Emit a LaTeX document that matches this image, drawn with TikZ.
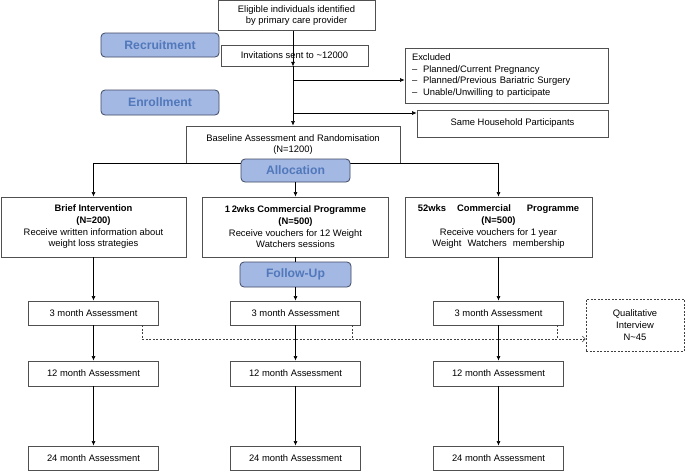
\documentclass[tikz,border=0pt]{standalone}
\usepackage{fontspec}
\setmainfont{Liberation Sans}
\usetikzlibrary{arrows.meta}
\definecolor{stagefill}{RGB}{164,184,228}
\definecolor{stagetext}{RGB}{80,120,186}
\definecolor{stageline}{RGB}{62,72,98}
\definecolor{boxline}{RGB}{80,80,80}
\begin{document}
\begin{tikzpicture}[x=1pt,y=-1pt,
		box/.style={draw=boxline,line width=0.8pt,fill=white,inner sep=0pt,align=center,font=\fontsize{9.4}{11.7}\selectfont},
		stage/.style={draw=stageline,line width=0.8pt,fill=stagefill,rounded corners=4pt,inner sep=0pt,text=stagetext,font=\fontsize{12.2}{14}\selectfont\bfseries},
		arr/.style={-{Latex[length=4.5pt,width=4pt]},line width=0.6pt},
		dotline/.style={draw=black!75,dash pattern=on 2pt off 1.5pt,line width=0.6pt}]
		\useasboundingbox (0,0) rectangle (685,471);
	
		\node[box,minimum width=157pt,minimum height=30pt] (elig) at (296.5,15.5) {Eligible individuals identified\\by primary care provider};
		\node[stage,minimum width=118pt,minimum height=24pt] (recruit) at (160,45) {Recruitment};
		\node[box,minimum width=147pt,minimum height=21pt] (invite) at (294.5,55.5) {Invitations sent to \textasciitilde12000};
		\node[box,minimum width=203pt,minimum height=55pt,text width=189pt,align=left] (excl) at (506.5,75.5) {Excluded\\\makebox[11pt][l]{--}Planned/Current Pregnancy\\\makebox[11pt][l]{--}Planned/Previous Bariatric Surgery\\\makebox[11pt][l]{--}Unable/Unwilling to participate};
		\node[stage,minimum width=118pt,minimum height=25pt] (enrol) at (160,102.5) {Enrollment};
		\node[box,minimum width=191pt,minimum height=27pt] (house) at (512.5,123.5) {Same Household Participants};
		\node[box,minimum width=214pt,minimum height=37pt] (base) at (293,144.5) {Baseline Assessment and Randomisation\\(N=1200)};
	
		\node[box,minimum width=185pt,minimum height=60pt] (brief) at (93.5,227) {\textbf{Brief Intervention}\\\textbf{(N=200)}\\Receive written information about\\weight loss strategies};
		\node[box,minimum width=186pt,minimum height=60pt] (twelve) at (295.5,227) {\textbf{1\,2wks Commercial Programme}\\\textbf{(N=500)}\\Receive vouchers for 12 Weight\\Watchers sessions};
		\node[box,minimum width=187pt,minimum height=60pt] (fifty) at (498.5,227) {\textbf{52wks\hspace{11pt}Commercial\hspace{16pt}Programme}\\\textbf{(N=500)}\\Receive vouchers for 1 year\\Weight\hspace{6pt}Watchers\hspace{6pt}membership};
		\node[stage,minimum width=111pt,minimum height=25pt] (follow) at (295.5,274.5) {Follow-Up};
	
		\node[box,minimum width=130pt,minimum height=24pt] (threeA) at (93.5,313) {3 month Assessment};
		\node[box,minimum width=130pt,minimum height=24pt] (threeB) at (295.5,313) {3 month Assessment};
		\node[box,minimum width=130pt,minimum height=24pt] (threeC) at (498.5,313) {3 month Assessment};
		\node[box,minimum width=130pt,minimum height=25pt] (twelveA) at (93.5,373.5) {12 month Assessment};
		\node[box,minimum width=130pt,minimum height=25pt] (twelveB) at (295.5,373.5) {12 month Assessment};
		\node[box,minimum width=130pt,minimum height=25pt] (twelveC) at (498.5,373.5) {12 month Assessment};
		\node[box,minimum width=130pt,minimum height=24pt] (tfourA) at (93.5,458) {24 month Assessment};
		\node[box,minimum width=130pt,minimum height=24pt] (tfourB) at (295.5,458) {24 month Assessment};
		\node[box,minimum width=130pt,minimum height=24pt] (tfourC) at (498.5,458) {24 month Assessment};
		\node[box,dotline,minimum width=98pt,minimum height=52pt] (qual) at (635,325) {Qualitative\\Interview\\N\textasciitilde45};
	
		\coordinate (exin) at ([yshift=-4.5pt]excl.west);
		\coordinate (hsin) at ([yshift=10.5pt]house.west);
		\coordinate (qlin) at ([yshift=-14pt]qual.west);
	
		\draw[arr] (elig.south -| base.north) -- (invite.south -| base.north |- invite.north);
		\draw[arr] (invite.south -| base.north) -- (base.north);
		\draw[arr] (exin -| base.north) -- (exin);
		\draw[arr] (hsin -| base.north) -- (hsin);
	
		\draw[line width=0.6pt] (brief.north |- base.south) -- (fifty.north |- base.south);
		\draw[arr] (brief.north |- base.south) -- (brief.north);
		\draw[arr] (fifty.north |- base.south) -- (fifty.north);
		\node[stage,minimum width=109pt,minimum height=23pt] (alloc) at (295.5,170.5) {Allocation};
		\draw[arr] (alloc.south) -- (twelve.north);
	
		\draw[line width=0.6pt] (twelve.south) -- (follow.north);
		\draw[arr] (follow.south) -- (threeB.north);
		\draw[arr] (brief.south) -- (threeA.north);
		\draw[arr] (fifty.south) -- (threeC.north);
	
		\draw[arr] (threeA.south) -- (twelveA.north);
		\draw[arr] (threeB.south) -- (twelveB.north);
		\draw[arr] (threeC.south) -- (twelveC.north);
		\draw[arr] (twelveA.south) -- (tfourA.north);
		\draw[arr] (twelveB.south) -- (tfourB.north);
		\draw[arr] (twelveC.south) -- (tfourC.north);
	
		\draw[dotline,-{Straight Barb[length=3pt,width=6pt]}] ([xshift=-17pt]threeA.south east) |- (qlin);
		\draw[dotline] ([xshift=-9pt]threeB.south east) -- ([xshift=-9pt]threeB.south east |- qlin);
		\draw[dotline] ([xshift=-7pt]threeC.south east) -- ([xshift=-7pt]threeC.south east |- qlin);
	\end{tikzpicture}
\end{document}
